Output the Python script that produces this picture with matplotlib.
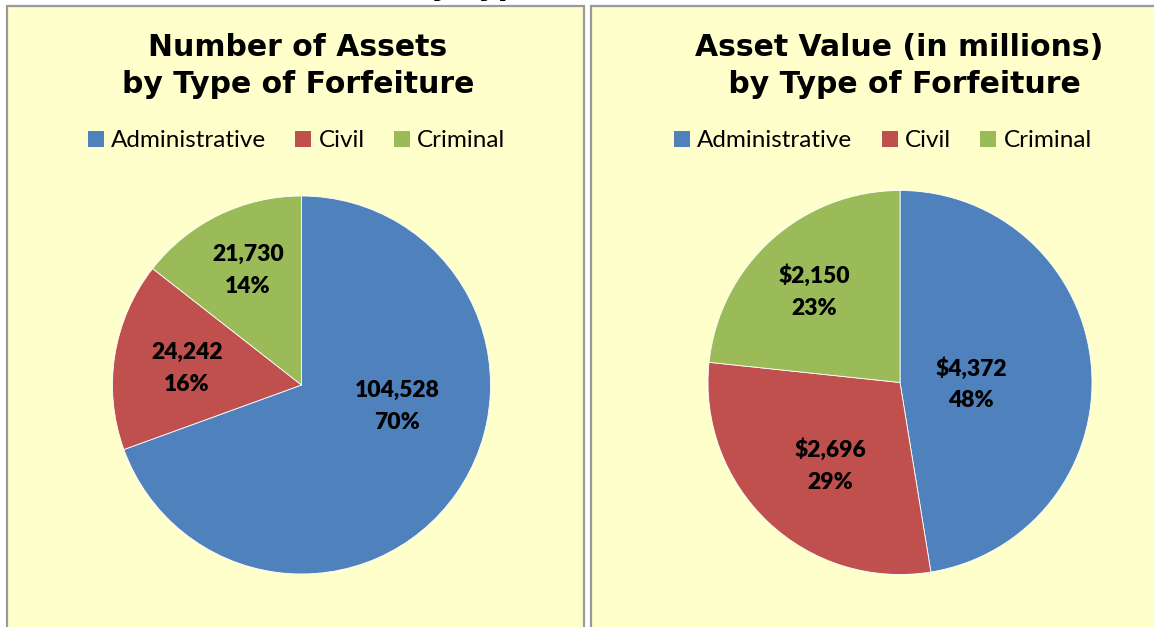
import matplotlib
matplotlib.use("Agg")
import matplotlib.pyplot as plt
from matplotlib.patches import Rectangle, Patch

# --- data ---
categories = ["Administrative", "Civil", "Criminal"]
asset_counts = [104528, 24242, 21730]
asset_count_pct = [70, 16, 14]
asset_values = [4372, 2696, 2150]          # $ millions
asset_value_pct = [48, 29, 23]

colors = ["#4F81BD", "#C0504D", "#9BBB59"]
panel_bg = "#FFFFCC"

# label anchor points inside each pie (pie radius = 1)
left_label_pos = [(0.505, -0.114), (-0.606, 0.087), (-0.283, 0.606)]
right_label_pos = [(0.37, -0.008), (-0.365, -0.432), (-0.448, 0.474)]

W, H = 1154, 627


def fx(px):
    return px / W


def fy(py):
    return 1 - py / H


fig = plt.figure(figsize=(W / 100, H / 100), dpi=100)
fig.patch.set_facecolor("white")

# panel backgrounds
for x0, x1 in [(7, 584), (591, 1180)]:
    fig.add_artist(Rectangle((fx(x0), fy(660)), (x1 - x0) / W, (660 - 6) / H,
                             transform=fig.transFigure, facecolor=panel_bg,
                             edgecolor="#9a9a9a", linewidth=1.6, zorder=0))

# heading of the page, cut off by the top edge (only descenders show)
fig.text(fx(586), fy(-5), "by Type of Forfeiture", ha="center", va="baseline",
         fontsize=21.5, fontweight="bold", family="DejaVu Sans")


def draw_panel(title, title_x, legend_x, values, pcts, prefix, label_pos,
               cx, cy, r):
    fig.text(fx(title_x), fy(66), title, ha="center", va="center",
             fontsize=21.5, fontweight="bold", family="DejaVu Sans",
             linespacing=1.32)

    handles = [Patch(facecolor=c, edgecolor="none") for c in colors]
    fig.legend(handles, categories, loc="center",
               bbox_to_anchor=(fx(legend_x), fy(141)), ncol=3, frameon=False,
               prop={"family": "Lato", "size": 17.5},
               handlelength=0.66, handleheight=0.66, handletextpad=0.3,
               columnspacing=1.2, borderpad=0)

    ax = fig.add_axes([fx(cx - r), fy(cy + r), 2 * r / W, 2 * r / H])
    ax.pie(values, colors=colors, startangle=90, counterclock=False,
           radius=1, wedgeprops=dict(edgecolor="white", linewidth=0.6))
    ax.set_xlim(-1, 1)
    ax.set_ylim(-1, 1)
    ax.axis("off")

    for v, p, (lx, ly) in zip(values, pcts, label_pos):
        ax.text(lx, ly, f"{prefix}{v:,}\n{p}%", ha="center", va="center",
                fontsize=16.5, fontweight="heavy", family="Lato",
                linespacing=1.62)


draw_panel("Number of Assets\nby Type of Forfeiture", 298, 296.5,
           asset_counts, asset_count_pct, "", left_label_pos,
           301.5, 385, 189)
draw_panel("Asset Value (in millions)\n by Type of Forfeiture", 899, 883,
           asset_values, asset_value_pct, "$", right_label_pos,
           900, 382.5, 192)

fig.savefig("out.png", dpi=100)
